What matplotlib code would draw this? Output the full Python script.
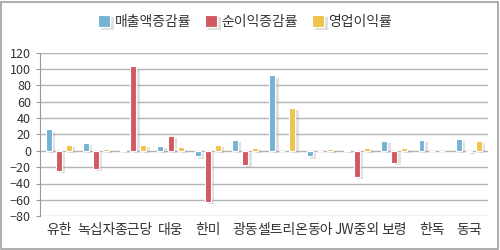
import numpy as np
import matplotlib.pyplot as plt
import matplotlib.patheffects as pe

plt.rcParams['font.family'] = ['Noto Sans CJK KR', 'DejaVu Sans']

# ==============
# Data
# ==============
companies = ["유한", "녹십자", "종근당", "대웅", "한미", "광동",
             "셀트리온", "동아", "JW중외", "보령", "한독", "동국"]
sales_growth = [26, 9, 1, 6, -7, 13, 92, -7, 0.5, 12, 13, 14]
profit_growth = [-25, -22, 103, 18, -62, -18, 0, 0, -32, -15, 0, -1]
op_margin = [7, 2, 7, 4, 7, 3, 52, 2, 3, 3, 0, 12]

series_names = ["매출액증감률", "순이익증감률", "영업이익률"]
colors = ["#74b2d6", "#d2595f", "#f0c44c"]

fig = plt.figure(figsize=(5, 2.5), dpi=100)
ax = fig.add_axes([0.08, 0.135, 0.895, 0.655])

x = np.arange(len(companies))
w = 0.16
offsets = [-0.27, 0, 0.27]
shadow = [pe.SimplePatchShadow(offset=(2.5, -1.5), shadow_rgbFace="#aaaaaa", alpha=0.35), pe.Normal()]

for vals, off, c, name in zip([sales_growth, profit_growth, op_margin], offsets, colors, series_names):
    bars = ax.bar(x + off, vals, width=w, color=c, edgecolor="white", linewidth=0.8,
                  label=name, zorder=3)
    for b in bars:
        b.set_path_effects(shadow)

ax.set_xlim(-0.5, len(companies) - 0.5)
ax.set_ylim(-80, 120)
ax.set_yticks(range(-80, 121, 20))
ax.set_xticks(x)
ax.set_xticklabels(companies, fontsize=10, color="#333333")
ax.tick_params(axis="y", labelsize=9, colors="#333333", length=3, color="#999999")
ax.tick_params(axis="x", length=0, pad=5)
ax.grid(axis="y", color="#b3b3b3", linewidth=1, zorder=0)
for s in ["top", "right", "bottom"]:
    ax.spines[s].set_visible(False)
ax.spines["left"].set_color("#999999")

leg = fig.legend(loc="upper center", bbox_to_anchor=(0.49, 0.99), ncol=3, frameon=False,
                 fontsize=10, handlelength=0.9, handleheight=1.0, handletextpad=0.3,
                 columnspacing=1.0)
for t in leg.get_texts():
    t.set_color("#333333")

fig.patches.append(plt.Rectangle((0.002, 0.004), 0.994, 0.99, transform=fig.transFigure,
                                 fill=False, edgecolor="#a0a0a0", linewidth=1.2))

fig.savefig("out.png", dpi=100)
